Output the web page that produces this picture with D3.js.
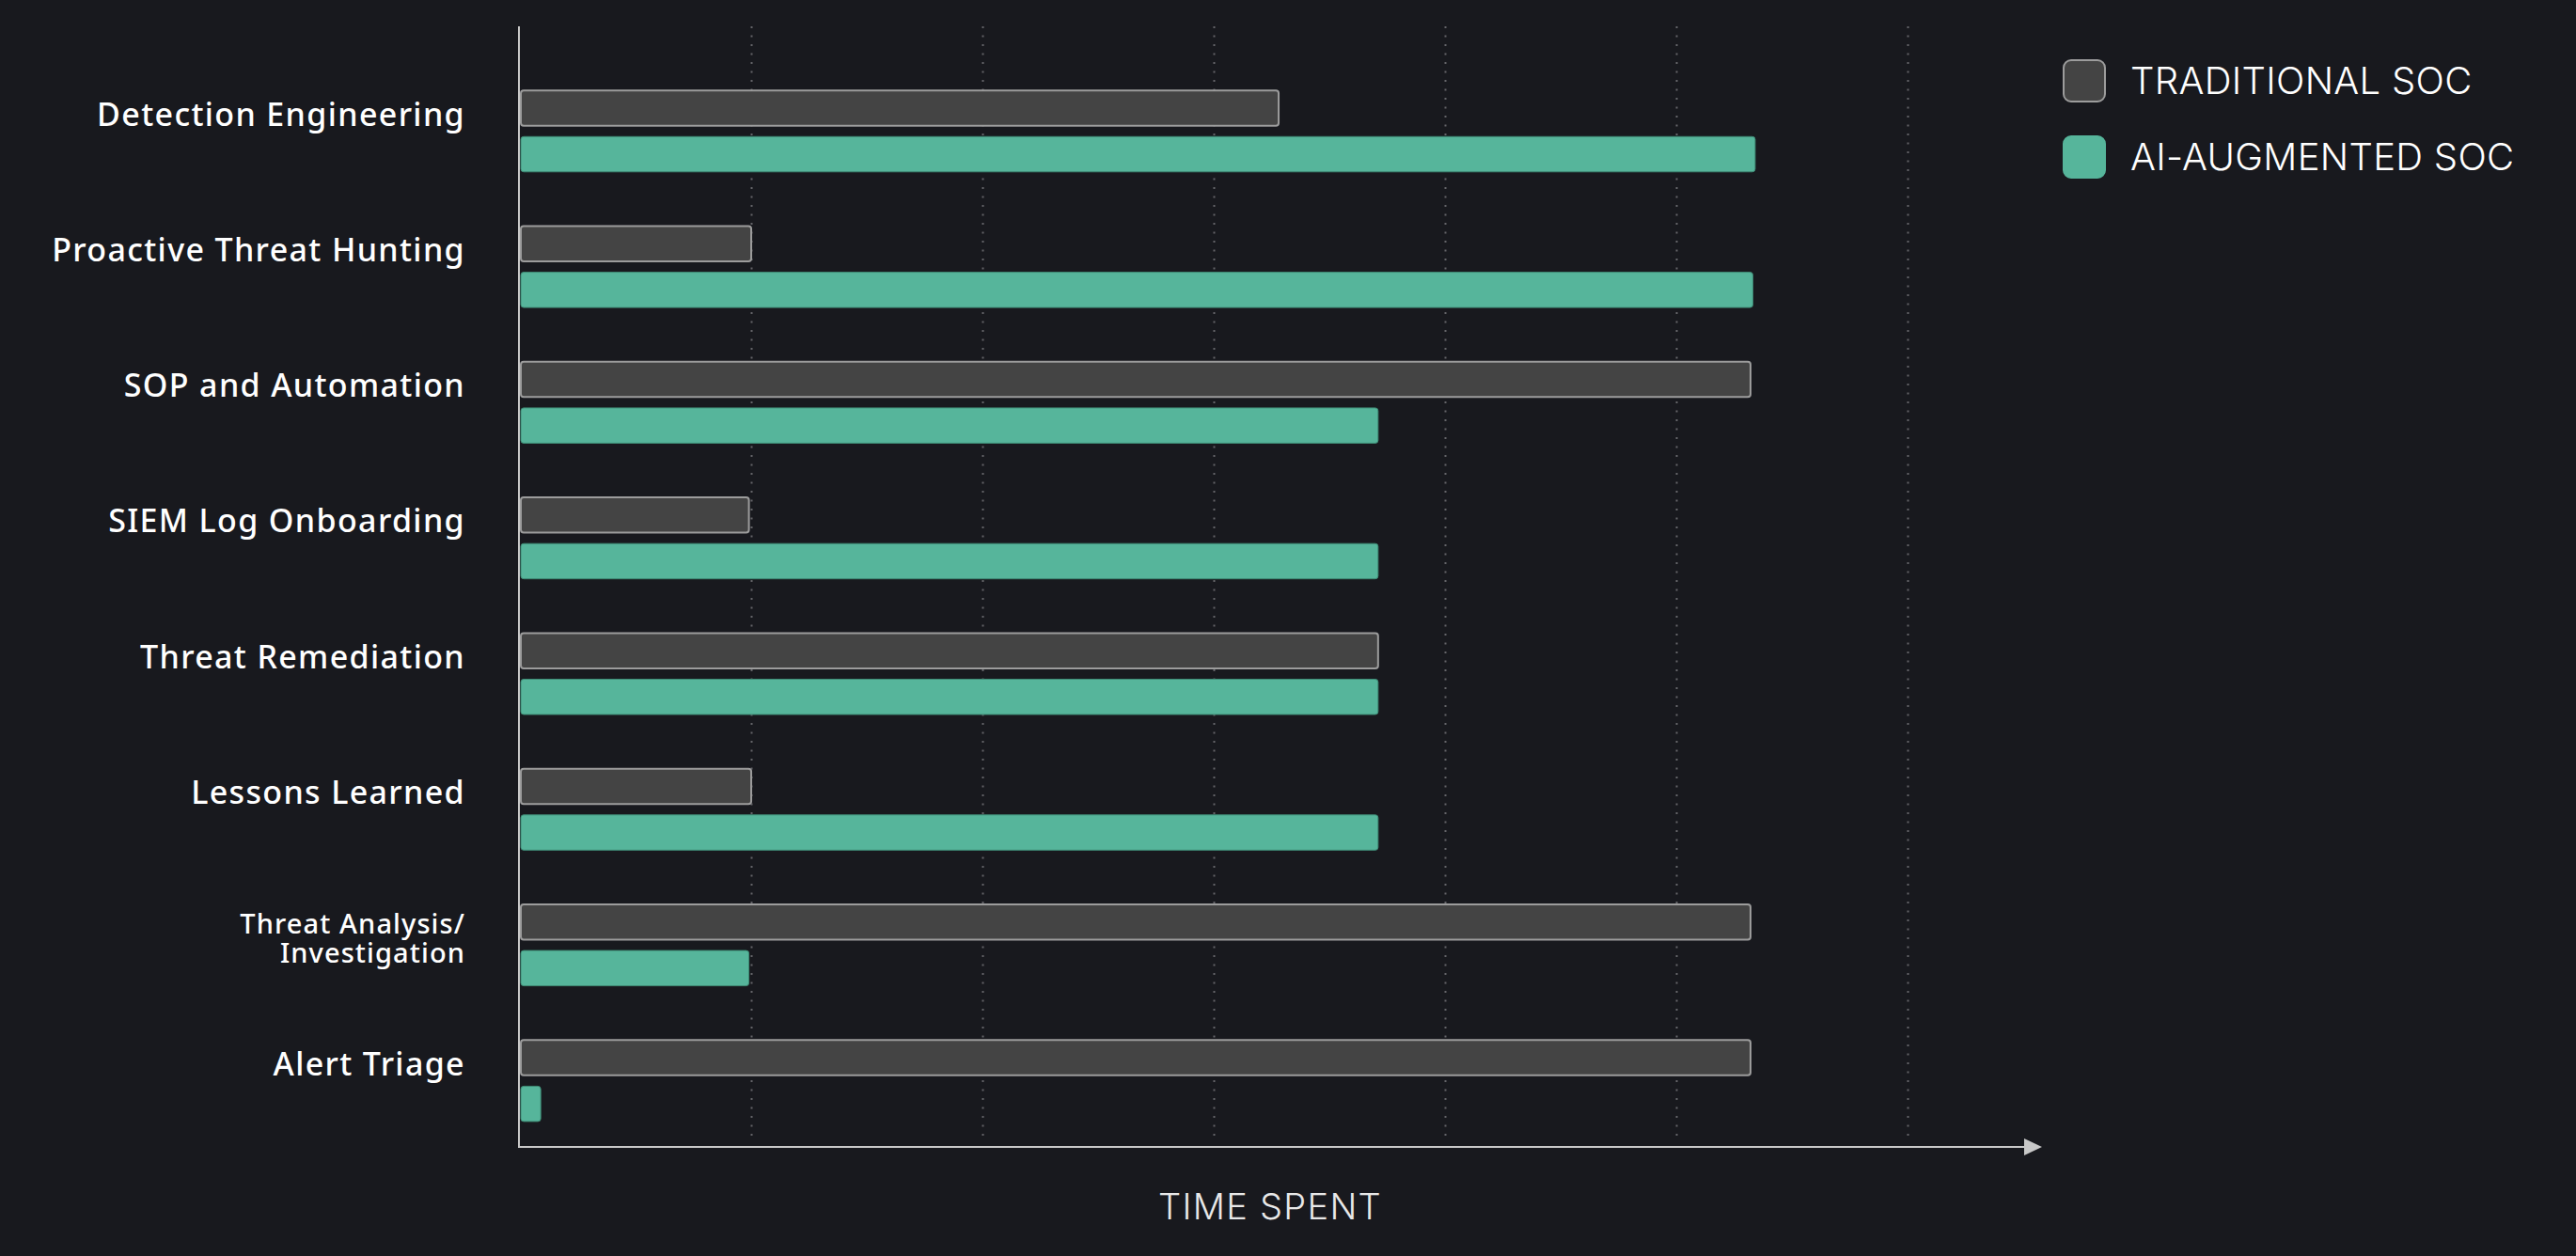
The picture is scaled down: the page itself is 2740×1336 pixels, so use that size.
<!DOCTYPE html>
<html>
<head>
<meta charset="utf-8">
<script src="https://cdn.jsdelivr.net/npm/d3@7"></script>
<style>
  html, body { margin: 0; padding: 0; background: #18191e; }
  svg { display: block; }
</style>
</head>
<body>
<svg id="chart"></svg>
<script>
// datos
const categorias = [
  "Detection Engineering",
  "Proactive Threat Hunting",
  "SOP and Automation",
  "SIEM Log Onboarding",
  "Threat Remediation",
  "Lessons Learned",
  "Threat Analysis/\nInvestigation",
  "Alert Triage",
];
const series = ["TRADITIONAL SOC", "AI-AUGMENTED SOC"];
const tradicional = [3.28, 1.0, 5.32, 0.99, 3.71, 1.0, 5.32, 5.32];
const aumentado = [5.34, 5.33, 3.71, 3.71, 3.71, 3.71, 0.99, 0.09];
const ticksX = [1, 2, 3, 4, 5, 6];
const tituloX = "TIME SPENT";

const width = 2740, height = 1336;
const svg = d3.select("#chart").attr("width", width).attr("height", height);

const colores = d3.scaleOrdinal().domain(series).range(["#444444", "#56b59b"]);
const bordes = d3.scaleOrdinal().domain(series).range(["#9c9c9c", "#3f8c76"]);

const x = d3.scaleLinear().domain([0, 6.58]).range([553, 2172]);
const y0 = d3.scaleBand().domain(categorias).range([67.35, 1221.75])
  .paddingInner(0.4).paddingOuter(0.2);
const y1 = d3.scaleBand().domain(series).range([0, y0.bandwidth()]).paddingInner(0.236);

const ejeY = 1220, topeEje = 28;

// rejilla punteada
svg.append("g")
  .selectAll("line")
  .data(ticksX)
  .join("line")
  .attr("x1", d => Math.round(x(d)) + 0.5)
  .attr("x2", d => Math.round(x(d)) + 0.5)
  .attr("y1", topeEje)
  .attr("y2", ejeY - 8)
  .attr("stroke", "#646569")
  .attr("stroke-width", 2)
  .attr("stroke-dasharray", "2,7.5");

// barras
const filas = categorias.map((c, i) => ({
  cat: c,
  valores: [
    { s: series[0], v: tradicional[i] },
    { s: series[1], v: aumentado[i] },
  ],
}));

const grupos = svg.append("g")
  .selectAll("g")
  .data(filas)
  .join("g")
  .attr("transform", d => `translate(0,${y0(d.cat)})`);

grupos.selectAll("rect")
  .data(d => d.valores)
  .join("rect")
  .attr("x", x(0) + 1)
  .attr("y", d => y1(d.s))
  .attr("width", d => Math.max(0, x(d.v) - x(0) - 1))
  .attr("height", y1.bandwidth())
  .attr("rx", 3)
  .attr("fill", d => colores(d.s))
  .attr("stroke", d => bordes(d.s))
  .attr("stroke-width", d => d.s === series[0] ? 2 : 1);

// etiquetas de categorias
const etiquetas = svg.append("g")
  .attr("font-family", "'Noto Sans', 'Open Sans', sans-serif")
  .attr("font-weight", 500)
  .attr("fill", "#ffffff")
  .attr("text-anchor", "end")
  .selectAll("text")
  .data(categorias)
  .join("text")
  .attr("x", 495)
  .attr("y", d => y0(d) + y0.bandwidth() / 2)
  .attr("font-size", d => d.includes("\n") ? 29 : 34)
  .attr("letter-spacing", d => d.includes("\n") ? 1.1 : 1.35);

etiquetas.each(function (d) {
  const lineas = d.split("\n");
  const t = d3.select(this);
  if (lineas.length === 1) {
    t.append("tspan").attr("x", 495).attr("dy", -6).text(d);
  } else {
    lineas.forEach((l, k) => {
      t.append("tspan").attr("x", 495).attr("dy", k === 0 ? -12 : 31).text(l);
    });
  }
});

// ejes
svg.append("line")
  .attr("x1", x(0) - 1).attr("x2", x(0) - 1)
  .attr("y1", topeEje).attr("y2", ejeY + 1)
  .attr("stroke", "#c8c8c8").attr("stroke-width", 2);

svg.append("line")
  .attr("x1", x(0) - 2).attr("x2", x.range()[1] - 18)
  .attr("y1", ejeY).attr("y2", ejeY)
  .attr("stroke", "#c8c8c8").attr("stroke-width", 2);

const xf = x.range()[1];
svg.append("path")
  .attr("d", `M${xf - 19},${ejeY - 9}L${xf},${ejeY}L${xf - 19},${ejeY + 9}Z`)
  .attr("fill", "#c8c8c8");

svg.append("text")
  .attr("x", 1351)
  .attr("y", 1297)
  .attr("text-anchor", "middle")
  .attr("font-family", "Inter, 'Open Sans', sans-serif")
  .attr("font-weight", 300)
  .attr("font-size", 38)
  .attr("letter-spacing", 1.3)
  .attr("fill", "#e8e8e8")
  .text(tituloX);

// leyenda
const leyenda = svg.append("g")
  .selectAll("g")
  .data(series)
  .join("g")
  .attr("transform", (d, i) => `translate(2195,${64 + i * 81})`);

leyenda.append("rect")
  .attr("width", 44)
  .attr("height", 44)
  .attr("rx", 8)
  .attr("fill", d => colores(d))
  .attr("stroke", d => d === series[0] ? "#9c9c9c" : "#56b59b")
  .attr("stroke-width", 2);

leyenda.append("text")
  .attr("x", 71)
  .attr("y", 36)
  .attr("font-family", "Inter, 'Open Sans', sans-serif")
  .attr("font-weight", 300)
  .attr("font-size", 40)
  .attr("letter-spacing", 0.3)
  .attr("fill", "#ffffff")
  .text(d => d);
</script>
</body>
</html>
